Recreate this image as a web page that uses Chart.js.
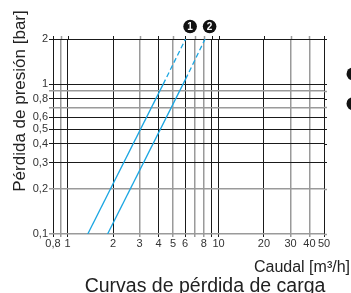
<!DOCTYPE html>
<html>
<head>
<meta charset="utf-8">
<script src="https://cdn.jsdelivr.net/npm/chart.js@4/dist/chart.umd.min.js"></script>
<style>
  html,body{margin:0;padding:0;background:#fff;}
  #wrap{width:351px;height:293px;position:relative;}
</style>
</head>
<body>
<div id="wrap"><canvas id="c" width="351" height="293"></canvas></div>
<script>
// ---- data ----
const xTicks = [0.8, 0.9, 1, 2, 3, 4, 5, 6, 7, 8, 9, 10, 20, 30, 40, 50];
const xLabelled = [0.8, 1, 2, 3, 4, 5, 6, 8, 10, 20, 30, 40, 50];
const xGray = [0.9, 3, 5, 7, 8, 30, 40];
const yTicks = [0.1, 0.2, 0.3, 0.4, 0.5, 0.6, 0.7, 0.8, 0.9, 1, 2];
const yLabelled = [0.1, 0.2, 0.3, 0.4, 0.5, 0.6, 0.8, 1, 2];
const yGray = [0.1, 0.2, 0.7, 0.9];

// curve 1 (Caudal m3/h, Pérdida bar)
const curve1SolidQ = [1.36, 4.3];
const curve1SolidP = [0.1, 1.0];
const curve1DashQ = [4.3, 6.05];
const curve1DashP = [1.0, 2.0];
// curve 2
const curve2SolidQ = [1.84, 6.05];
const curve2SolidP = [0.1, 1.08];
const curve2DashQ = [6.05, 8.15];
const curve2DashP = [1.08, 2.0];
const curveNames = ['1', '2'];

const fmt = v => String(v).replace('.', ',');
const pts = (q, p) => q.map((v, i) => ({x: v, y: p[i]}));
const BLUE = '#1ba6e2';
const gridCol = (list, v) => list.includes(v) ? '#9a9a9a' : '#1a1a1a';
const gridW = (list, v) => list.includes(v) ? 1.5 : 1;

// small grid overhang above the top and right of the plot (as in the original)
const overhangPlugin = {
  id: 'overhang',
  beforeDatasetsDraw(chart) {
    const ctx = chart.ctx, a = chart.chartArea;
    const xs = chart.scales.x, ys = chart.scales.y;
    ctx.save();
    xTicks.forEach(v => {
      const px = Math.round(xs.getPixelForValue(v)) + 0.5;
      ctx.strokeStyle = gridCol(xGray, v); ctx.lineWidth = gridW(xGray, v);
      ctx.beginPath(); ctx.moveTo(px, a.top - 3); ctx.lineTo(px, a.top); ctx.stroke();
    });
    yTicks.forEach(v => {
      const py = Math.round(ys.getPixelForValue(v)) + 0.5;
      ctx.strokeStyle = gridCol(yGray, v); ctx.lineWidth = gridW(yGray, v);
      ctx.beginPath(); ctx.moveTo(a.right, py); ctx.lineTo(a.right + 3, py); ctx.stroke();
    });
    ctx.restore();
  }
};

const markerPlugin = {
  id: 'markers',
  afterDatasetsDraw(chart) {
    const ctx = chart.ctx;
    [1, 3].forEach((di, k) => {
      const meta = chart.getDatasetMeta(di);
      const el = meta.data[meta.data.length - 1];
      const cx = el.x + 4.5, cy = el.y - 12.5;
      ctx.save();
      ctx.fillStyle = '#111';
      ctx.beginPath(); ctx.arc(cx, cy, 6.8, 0, Math.PI * 2); ctx.fill();
      ctx.fillStyle = '#fff';
      ctx.font = 'bold 10px "Liberation Sans", Arial, sans-serif';
      ctx.textAlign = 'center'; ctx.textBaseline = 'middle';
      ctx.fillText(curveNames[k], cx, cy + 0.5);
      ctx.restore();
    });
    // partial legend circles at the right edge
    ctx.save();
    ctx.fillStyle = '#111';
    const ys = chart.scales.y;
    [1.17, 0.74].forEach(v => {
      ctx.beginPath(); ctx.arc(chart.width + 2, ys.getPixelForValue(v), 6.5, 0, Math.PI * 2); ctx.fill();
    });
    ctx.restore();
  }
};

const textPlugin = {
  id: 'texts',
  afterDraw(chart) {
    const ctx = chart.ctx;
    const a = chart.chartArea;
    ctx.save();
    ctx.fillStyle = '#222';
    ctx.font = '17px "Liberation Sans", Arial, sans-serif';
    ctx.translate(25, 101);
    ctx.rotate(-Math.PI / 2);
    ctx.textAlign = 'center'; ctx.textBaseline = 'alphabetic';
    ctx.fillText('Pérdida de presión [bar]', 0, 0);
    ctx.restore();
    ctx.save();
    ctx.fillStyle = '#222';
    ctx.font = '16px "Liberation Sans", Arial, sans-serif';
    ctx.textAlign = 'right'; ctx.textBaseline = 'alphabetic';
    ctx.fillText('Caudal [m³/h]', chart.width - 1, a.bottom + 37.5);
    ctx.font = '19.5px "Liberation Sans", Arial, sans-serif';
    ctx.textAlign = 'center';
    ctx.fillText('Curvas de pérdida de carga', 205, a.bottom + 57.5);
    ctx.restore();
  }
};

new Chart(document.getElementById('c'), {
  type: 'line',
  data: {
    datasets: [
      {data: pts(curve1SolidQ, curve1SolidP)},
      {data: pts(curve1DashQ, curve1DashP), borderDash: [5, 3]},
      {data: pts(curve2SolidQ, curve2SolidP)},
      {data: pts(curve2DashQ, curve2DashP), borderDash: [5, 3]}
    ].map(d => Object.assign({borderColor: BLUE, borderWidth: 1.3, pointRadius: 0, fill: false, tension: 0}, d))
  },
  options: {
    responsive: false,
    animation: false,
    devicePixelRatio: 1,
    layout: {padding: {left: 0, right: 27, top: 39, bottom: 0}},
    plugins: {legend: {display: false}, tooltip: {enabled: false}, title: {display: false}},
    scales: {
      x: {
        type: 'logarithmic', min: 0.8, max: 50,
        afterBuildTicks: s => { s.ticks = xTicks.map(v => ({value: v})); },
        afterFit: s => { s.height = 59; },
        border: {display: false},
        grid: {
          color: c => gridCol(xGray, c.tick && c.tick.value),
          lineWidth: c => gridW(xGray, c.tick && c.tick.value),
          tickLength: 3, drawTicks: true
        },
        ticks: {
          autoSkip: false, maxRotation: 0, padding: 0, color: '#333',
          font: {family: '"Liberation Sans", Arial, sans-serif', size: 11},
          callback: v => xLabelled.includes(v) ? fmt(v) : ''
        }
      },
      y: {
        type: 'logarithmic', min: 0.1, max: 2,
        afterBuildTicks: s => { s.ticks = yTicks.map(v => ({value: v})); },
        afterFit: s => { s.width = 53; },
        border: {display: false},
        grid: {
          color: c => gridCol(yGray, c.tick && c.tick.value),
          lineWidth: c => gridW(yGray, c.tick && c.tick.value),
          tickLength: 4, drawTicks: true
        },
        ticks: {
          autoSkip: false, padding: 1, color: '#333',
          font: {family: '"Liberation Sans", Arial, sans-serif', size: 11},
          callback: v => yLabelled.includes(v) ? fmt(v) : ''
        }
      }
    }
  },
  plugins: [overhangPlugin, markerPlugin, textPlugin]
});
</script>
</body>
</html>
